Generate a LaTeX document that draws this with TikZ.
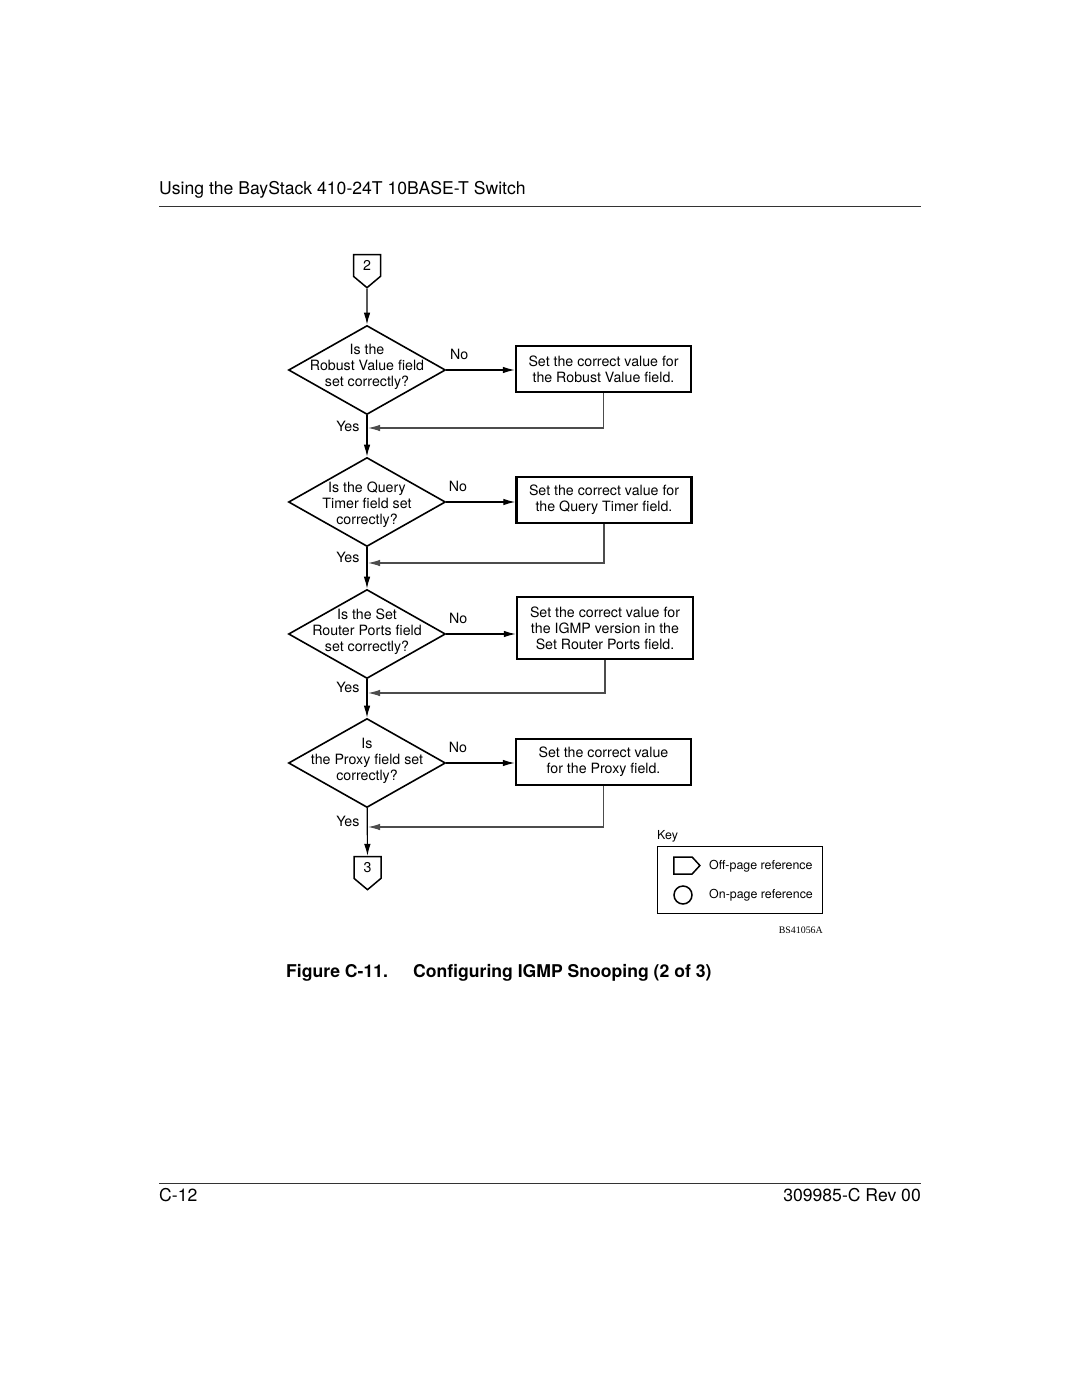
\documentclass[tikz,border=0pt]{standalone}
\usepackage{fontspec}
\setmainfont{TeX Gyre Heros}
\newfontfamily\idfont{Liberation Serif}
\usetikzlibrary{shapes.geometric,shapes.symbols,arrows.meta,positioning}

\newcommand\pagefont{\fontsize{17.6}{21}\selectfont}
\newcommand\flowfont{\fontsize{14.2}{16}\selectfont}
\newcommand\keyfont{\fontsize{12.4}{15}\selectfont}

\tikzset{
  decision/.style={diamond, draw, line width=1.6pt, minimum width=157pt,
    minimum height=89pt, inner sep=0pt},
  action/.style={rectangle, draw, line width=2.4pt, minimum width=175pt,
    minimum height=46pt, align=center},
  offpage/.style={signal, signal to=south, draw, line width=1.5pt,
    minimum width=27pt, minimum height=25pt, inner sep=0pt,
    signal pointer angle=100},
  qtext/.style={align=center, font=\flowfont},
  flow/.style={-{Latex[length=12pt,width=6.5pt]}, line width=1.2pt},
  back/.style={flow, draw=black!70, line width=1.1pt},
  rule/.style={line width=1pt, draw=black!80},
}

\begin{document}
\begin{tikzpicture}[x=1pt, y=-1pt, font=\flowfont]
  \useasboundingbox[fill=white] (0,0) rectangle (1080,1397);

  % page head and foot
  \node[anchor=base west, inner sep=0pt, font=\pagefont] (header) at (159,194)
    {Using the BayStack 410-24T 10BASE-T Switch};
  \draw[rule] (159,206) -- (921,206);
  \draw[rule] (159,1183) -- (921,1183);
  \node[anchor=base west, inner sep=0pt, font=\pagefont] (pageno) at (159,1201) {C-12};
  \node[anchor=base east, inner sep=0pt, font=\pagefont] (docno) at (921,1201) {309985-C Rev 00};

  % flow
  \node[offpage] (c2) at (367,265.5) {2};
  \node[decision, label={[qtext, yshift=3pt]center:{Is the\\Robust Value field\\set correctly?}}]
    (q1) at (367,370) {};
  \node[action] (a1) at (603.5,369) {Set the correct value for\\the Robust Value field.};
  \coordinate[label={[yshift=2pt, label distance=5pt]left:Yes}] (j1) at (368,428);

  \node[decision, label={[qtext, yshift=-3pt]center:{Is the Query\\Timer field set\\correctly?}}]
    (q2) at (367,502) {};
  \node[action] (a2) at (604,500) {Set the correct value for\\the Query Timer field.};
  \coordinate[label={[yshift=6pt, label distance=5pt]left:Yes}] (j2) at (368,563);

  \node[decision, label={[qtext, yshift=2pt]center:{Is the Set\\Router Ports field\\set correctly?}}]
    (q3) at (367,634) {};
  \node[action, minimum width=176pt, minimum height=62pt] (a3) at (605,628)
    {Set the correct value for\\the IGMP version in the\\Set Router Ports field.};
  \coordinate[label={[yshift=6pt, label distance=5pt]left:Yes}] (j3) at (368,693);

  \node[decision, label={[qtext, yshift=2pt]center:{Is\\the Proxy field set\\correctly?}}]
    (q4) at (367,763) {};
  \node[action] (a4) at (603.5,762) {Set the correct value\\for the Proxy field.};
  \coordinate[label={[yshift=6pt, label distance=5pt]left:Yes}] (j4) at (368,827);

  \node[offpage] (c3) at (367.5,867.5) {3};

  \draw[flow] (c2) -- (q1);
  \draw[flow] (q1) -- (q2);
  \draw[flow] (q2) -- (q3);
  \draw[flow] (q3) -- (q4);
  \draw[flow] (q4) -- (c3);

  \draw[flow] (q1.east) -- node[above=6pt, pos=0.19] (no1) {No} (q1.east -| a1.west);
  \draw[flow] (q2.east) -- node[above=6pt, pos=0.17] (no2) {No} (q2.east -| a2.west);
  \draw[flow] (q3.east) -- node[above=6pt, pos=0.17] (no3) {No} (q3.east -| a3.west);
  \draw[flow] (q4.east) -- node[above=6pt, pos=0.17] (no4) {No} (q4.east -| a4.west);

  \draw[back] (a1.south) |- (j1);
  \draw[back] (a2.south) |- (j2);
  \draw[back] (a3.south) |- (j3);
  \draw[back] (a4.south) |- (j4);

  % key
  \node[anchor=base west, inner sep=0pt, font=\keyfont] (keylbl) at (657,839) {Key};
  \node[draw, line width=1pt, minimum width=165pt, minimum height=67pt] (keybox) at (739.5,879.5) {};
  \node[offpage, signal to=east, minimum width=26pt, minimum height=17pt,
    signal pointer angle=95] (keyoff) at (683,865.5) {};
  \node[circle, draw, line width=1.5pt, minimum size=18pt, inner sep=0pt] (keyon) at (683,895) {};
  \node[anchor=west, inner sep=0pt, font=\keyfont] (keyofftxt) at (709,866) {Off-page reference};
  \node[anchor=west, inner sep=0pt, font=\keyfont] (keyontxt) at (709,895) {On-page reference};
  \node[anchor=east, inner sep=0pt, font=\idfont\fontsize{9.9}{12}\selectfont] (figid) at (823,930) {BS41056A};

  % caption
  \node[anchor=base west, inner sep=0pt, font=\pagefont\bfseries] (figno) at (286,977) {Figure C-11.};
  \node[anchor=base west, inner sep=0pt, font=\pagefont\bfseries] (figtitle) at (413,977)
    {Configuring IGMP Snooping (2 of 3)};
\end{tikzpicture}
\end{document}
